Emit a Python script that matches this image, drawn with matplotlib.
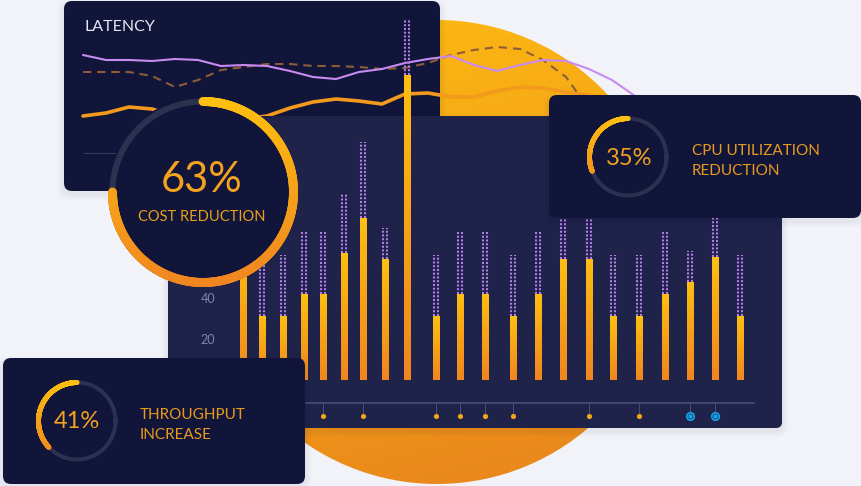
import matplotlib.pyplot as plt
import numpy as np
from matplotlib.patches import FancyBboxPatch, Circle
from matplotlib.collections import LineCollection
from matplotlib.colors import LinearSegmentedColormap
from matplotlib.transforms import Affine2D

plt.rcParams['font.family'] = ['Lato', 'DejaVu Sans']

W, H = 861, 486

# latency chart (ms), one sample per step
lat_t = np.arange(25)
lat_purple = [42.5, 40, 40, 39.5, 40.5, 40, 37, 37.5, 37, 34.5, 31.5, 30.5, 34,
              35.5, 38.5, 40.5, 42, 37.5, 34.5, 37.5, 40, 39.5, 35.5, 30, 22]
lat_dash_t = list(range(22)) + [21.5]
lat_dash = [34, 34, 34, 32, 26.5, 30, 35, 36.5, 38, 38, 37, 37, 36.5, 35.5, 36,
            38.5, 42.5, 45, 46.5, 45.5, 40, 31.5, 23.5]
lat_orange_t = np.arange(23)
lat_orange = [12, 13.5, 16.5, 15.5, 12, 10, 9.5, 10.5, 12, 16, 19, 20.5, 19.5,
              18, 23, 23.5, 21.5, 21.5, 24.5, 26.5, 26, 24, 22.5]
lat_grid = -6.5

# bar chart: time, measured value, upper range
bar_t = [2.3, 4.2, 6.3, 8.4, 10.3, 12.4, 14.3, 16.5, 18.7, 21.6, 24.0, 26.5,
         29.3, 31.8, 34.3, 36.9, 39.3, 41.9, 44.5, 47.0, 49.5, 52.0]
bar_low = [62, 31, 31, 42, 42, 62, 79, 59, 149, 31, 42, 42, 31, 42, 59, 59, 31,
           31, 42, 48, 60, 31]
bar_high = [90, 61, 61, 72, 72, 91, 116, 74, 176, 61, 72, 72, 61, 72, 90, 90,
            61, 61, 72, 63, 87, 61]
bar_yticks = [20, 40]
events_orange = [4, 6, 9, 10, 11, 12, 15, 17]
events_blue = [19, 20]

# kpi rings
kpi_value = ['63%', '35%', '41%']
kpi_label = ['COST REDUCTION', 'CPU UTILIZATION\nREDUCTION', 'THROUGHPUT\nINCREASE']
kpi_fill = [0.75, 0.31, 0.37]

PANEL = '#12153a'
PANEL2 = '#1f2249'
TRACK = '#2c3150'
ORANGE_TXT = '#f2a21f'
grad = LinearSegmentedColormap.from_list('g', ['#fdbf10', '#f08620'])
sun = LinearSegmentedColormap.from_list('s', ['#fcbb12', '#f4a116', '#e8831d'])

fig = plt.figure(figsize=(W / 100, H / 100), dpi=100)
fig.patch.set_facecolor('#f2f3f8')
PX = Affine2D().scale(1 / W, -1 / H).translate(0, 1) + fig.transFigure


def px_axes(x, y, w, h, z):
    ax = fig.add_axes([x / W, 1 - (y + h) / H, w / W, h / H], zorder=z)
    ax.set_facecolor('none')
    return ax


def panel(ax, x, y, w, h, color, r=8):
    for i, a in enumerate([0.025, 0.02, 0.015]):
        s = FancyBboxPatch((x - 2 - 2 * i, y + 1 - i), w + 4 + 4 * i, h + 4 + 3 * i,
                           boxstyle=f'round,pad=0,rounding_size={r + 3}',
                           fc='#1a1c40', ec='none', alpha=a, transform=PX,
                           zorder=-10, clip_on=False)
        ax.add_artist(s)
    p = FancyBboxPatch((x, y), w, h, boxstyle=f'round,pad=0,rounding_size={r}',
                       fc=color, ec='none', transform=PX, zorder=-5, clip_on=False)
    ax.add_artist(p)


def ring(ax, cx, cy, r, fill, lw_arc, lw_track, clockwise):
    th = np.linspace(0, 2 * np.pi, 300)
    ax.plot(cx + r * np.cos(th), cy + r * np.sin(th), color=TRACK,
            lw=lw_track * 0.72, transform=PX, clip_on=False, zorder=2)
    s = np.linspace(0, fill, 400)
    a = np.pi / 2 + (-1 if clockwise else 1) * 2 * np.pi * s
    xs = cx + r * np.cos(a)
    ys = cy - r * np.sin(a)
    pts = np.column_stack([xs, ys])
    segs = np.stack([pts[:-1], pts[1:]], axis=1)
    cols = grad((ys[:-1] - (cy - r)) / (2 * r))
    lc = LineCollection(segs, colors=cols, linewidths=lw_arc * 0.72,
                        capstyle='round', transform=PX, zorder=3, clip_on=False)
    ax.add_collection(lc, autolim=False)


# background sun
ax0 = fig.add_axes([0, 0, 1, 1], zorder=0)
ax0.axis('off')
cx, cy, r = 437, 252, 232
yy, xx = np.mgrid[0:1:200j, 0:1:200j]
im = ax0.imshow(0.8 * yy + 0.2 * xx, extent=(cx - r, cx + r, cy + r, cy - r),
                cmap=sun, aspect='auto', origin='upper')
im.set_clip_path(Circle((cx, cy), r, transform=ax0.transData))
ax0.set_xlim(0, W)
ax0.set_ylim(H, 0)

# latency panel
ax_l = px_axes(83, 0, 552, 190, 1)
ax_l.axis('off')
panel(ax_l, 64, 1, 376, 190, PANEL, 8)
ax_l.hlines(lat_grid, 0, 15, color='#343a5e', lw=0.8, zorder=1)
ax_l.plot(lat_orange_t, lat_orange, color='#f39a1d', lw=2.6, clip_on=False,
          solid_capstyle='round', zorder=2)
ax_l.plot(lat_dash_t, lat_dash, color='#8c5d38', lw=1.5, ls=(0, (4, 2.8)),
          clip_on=False, zorder=3)
ax_l.plot(lat_t, lat_purple, color='#c98af2', lw=1.5, clip_on=False,
          solid_capstyle='round', zorder=4)
ax_l.text(85, 27, 'LATENCY', transform=PX, color='#e6e7f0', fontsize=11.5,
          va='center', ha='left')
ax_l.set_xlim(0, 24)
ax_l.set_ylim(-25, 70)

# bar panel
ax_b = px_axes(222, 116, 560, 312, 2)
panel(ax_b, 168, 116, 614, 312, PANEL2, 6)
for sp in ax_b.spines.values():
    sp.set_visible(False)
ax_b.set_xticks([])
ax_b.set_yticks(bar_yticks)
ax_b.tick_params(axis='y', length=0, pad=5, labelcolor='#7f84a8', labelsize=9)
bw = 0.65
bars = ax_b.bar(bar_t, bar_low, width=bw, color='none', ec='none', clip_on=False)
vg = np.linspace(0, 1, 100).reshape(-1, 1)
for b in bars:
    x0 = b.get_x()
    h = b.get_height()
    gi = ax_b.imshow(vg, extent=(x0, x0 + bw, 0, h), cmap=grad, aspect='auto',
                     origin='upper', zorder=3)
    gi.set_clip_path(b)
for off in (-0.19, 0.19):
    ax_b.vlines(np.array(bar_t) + off, bar_low, bar_high, color='#b47ae9',
                lw=1.5, linestyles=(0, (1.0, 0.8)), clip_on=False, zorder=2)
ax_b.hlines(-11.2, 2, 53.5, color='#4a4e7c', lw=1.2, zorder=1)
ev_o = [bar_t[i] for i in events_orange]
ev_b = [bar_t[i] for i in events_blue]
ax_b.vlines(ev_o + ev_b, -17.6, -11.2, color='#4a4e7c', lw=0.7, zorder=1)
ax_b.scatter(ev_o, [-17.6] * len(ev_o), s=14, color='#f5a21b', zorder=4, lw=0)
ax_b.scatter(ev_b, [-17.6] * len(ev_b), s=44, color='#1aa3e3', zorder=4, lw=0)
ax_b.scatter(ev_b, [-17.6] * len(ev_b), s=20, color='#0c5c9c', zorder=5, lw=0)
ax_b.scatter(ev_b, [-17.6] * len(ev_b), s=7, color='#19a8ea', zorder=6, lw=0)
ax_b.set_xlim(0.2, 56.2)
ax_b.set_ylim(-23.4, 128.8)

# cost donut
ax_c = px_axes(100, 90, 205, 205, 3)
ax_c.axis('off')
ax_c.add_artist(Circle((203, 192), 95, fc=PANEL, ec='none', transform=PX, zorder=1))
ring(ax_c, 203, 192, 90.5, kpi_fill[0], 9, 6, True)
ax_c.text(202, 180, kpi_value[0], transform=PX, color=ORANGE_TXT, fontsize=30,
          ha='center', va='center', zorder=5)
ax_c.text(202, 217, kpi_label[0], transform=PX, color='#e9a01d', fontsize=10.5,
          ha='center', va='center', zorder=5)

# cpu panel
ax_p = px_axes(549, 95, 312, 123, 4)
ax_p.axis('off')
panel(ax_p, 549, 95, 312, 123, PANEL, 8)
ring(ax_p, 628, 157, 38.5, kpi_fill[1], 5, 4, False)
ax_p.text(629, 158, kpi_value[1], transform=PX, color=ORANGE_TXT, fontsize=17,
          ha='center', va='center', zorder=5)
ax_p.text(692, 161, kpi_label[1], transform=PX, color='#e59a1e', fontsize=11,
          ha='left', va='center', linespacing=1.55, zorder=5)

# throughput panel
ax_t = px_axes(3, 358, 302, 126, 5)
ax_t.axis('off')
panel(ax_t, 3, 358, 302, 126, PANEL, 8)
ring(ax_t, 77, 421, 38.5, kpi_fill[2], 5, 4, False)
ax_t.text(77, 421, kpi_value[2], transform=PX, color=ORANGE_TXT, fontsize=17,
          ha='center', va='center', zorder=5)
ax_t.text(140, 425, kpi_label[2], transform=PX, color='#e59a1e', fontsize=11,
          ha='left', va='center', linespacing=1.55, zorder=5)

fig.savefig('out.png', dpi=100, facecolor=fig.get_facecolor())
